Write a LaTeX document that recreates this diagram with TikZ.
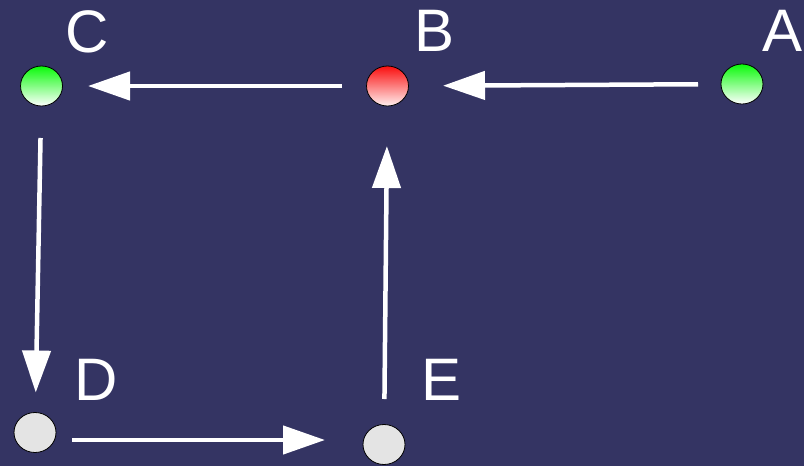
\documentclass[tikz,border=0pt]{standalone}
\usepackage{fontspec}
\setmainfont{Liberation Sans}
\usetikzlibrary{arrows.meta,shapes.geometric}
\definecolor{bgblue}{RGB}{52,52,99}
\definecolor{dotgreen}{RGB}{10,250,10}
\definecolor{dotred}{RGB}{250,15,15}
\definecolor{dotgray}{RGB}{228,228,228}

\begin{document}
\begin{tikzpicture}[x=1pt,y=-1pt,
  dot/.style={ellipse,draw=black,line width=0.8pt,minimum width=42pt,minimum height=40pt,inner sep=0pt,outer sep=0pt},
  lab/.style={anchor=base,text=white,font=\fontsize{60}{66}\selectfont,inner sep=0pt},
  arr/.style={draw=white,line width=4.5pt,-{Triangle[length=42pt,width=28pt]}}]
\fill[bgblue] (0,0) rectangle (804,466);\useasboundingbox (0,0) rectangle (804,466);
\node[dot,top color=dotgreen,bottom color=white] (c) at (41.5,86){};\node[lab] (labc) at (87,52){C};
\node[dot,top color=dotred,bottom color=red!6] (b) at (387.5,86){};\node[lab] (labb) at (435,51.7){B};
\node[dot,top color=dotgreen,bottom color=white] (a) at (742,84){};\node[lab] (laba) at (783,51){A};
\node[dot,fill=dotgray] (d) at (35,432.5){};\node[lab] (labd) at (96,400.7){D};
\node[dot,fill=dotgray] (e) at (384,444.5){};\node[lab] (labe) at (442,400){E};
\draw[arr,shorten <=23pt,shorten >=34.5pt] (a)--(b);\draw[arr,shorten <=24.5pt,shorten >=25.5pt] (b)--(c);
\draw[arr,shorten <=32pt,shorten >=20pt] (c)--(d);
\draw[arr,shorten <=16pt,shorten >=38pt] ([yshift=-7.5pt]d.east)--([yshift=4.5pt]e.west);
\draw[arr,shorten <=25.5pt,shorten >=40pt] (e)--(b);
\end{tikzpicture}
\end{document}
